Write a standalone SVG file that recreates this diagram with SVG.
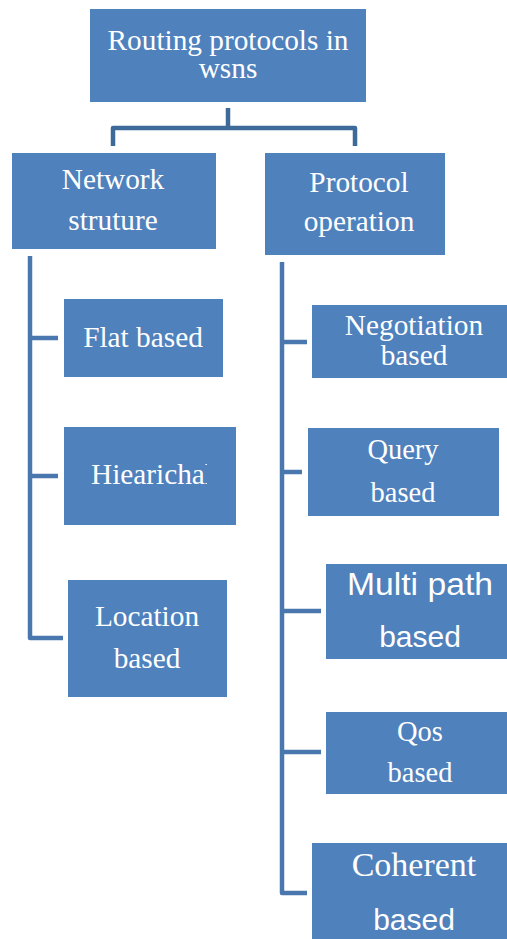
<svg xmlns="http://www.w3.org/2000/svg" width="507" height="939" viewBox="0 0 507 939">
<style>
.box{fill:#4f81bd}
.t{fill:#ffffff;font-family:"Liberation Serif","Times New Roman",serif;font-size:29.3px;text-anchor:middle}
.s{fill:#ffffff;font-family:"Liberation Sans",Arial,sans-serif;font-size:30px;text-anchor:middle}
.c{fill:none;stroke:#4a77ad;stroke-width:4.5;stroke-linejoin:round}
.ct{fill:none;stroke:#3e6a9a;stroke-width:4.5;stroke-linejoin:round}
</style>
<defs>
<clipPath id="clipH"><rect x="64" y="427" width="143" height="98"/></clipPath>
</defs>
<rect width="507" height="939" fill="#ffffff"/>
<g id="connectors">
<path class="ct" d="M228,108 V128 M113,146 V128 H355 V146"/>
<path class="c" d="M30,256 V638 H63 M30,338 H58 M30,476 H58"/>
<path class="c" d="M282,262 V893 H307 M282,342 H307 M282,472 H302 M282,611 H321 M282,752 H321"/>
</g>
<g id="root">
<rect class="box" x="90" y="9" width="276" height="93"/>
<text class="t" x="228" y="50">Routing protocols in</text>
<text class="t" x="228" y="78">wsns</text>
</g>
<g id="network">
<rect class="box" x="12" y="153" width="204" height="96"/>
<text class="t" x="113" y="189">Network</text>
<text class="t" x="113" y="230">struture</text>
</g>
<g id="protocol">
<rect class="box" x="265" y="153" width="180" height="102"/>
<text class="t" x="359" y="192">Protocol</text>
<text class="t" x="359" y="231">operation</text>
</g>
<g id="flat">
<rect class="box" x="64" y="299" width="159" height="78"/>
<text class="t" x="143" y="347">Flat based</text>
</g>
<g id="hier">
<rect class="box" x="64" y="427" width="172" height="98"/>
<text class="t" x="91" y="484" style="text-anchor:start" clip-path="url(#clipH)">Hiearichal</text>
</g>
<g id="location">
<rect class="box" x="68" y="580" width="159" height="117"/>
<text class="t" x="147" y="626">Location</text>
<text class="t" x="147" y="668">based</text>
</g>
<g id="negotiation">
<rect class="box" x="312" y="305" width="195" height="73"/>
<text class="t" x="414" y="335">Negotiation</text>
<text class="t" x="414" y="365">based</text>
</g>
<g id="query">
<rect class="box" x="308" y="428" width="191" height="88"/>
<text class="t" x="403" y="459" style="font-size:28.5px">Query</text>
<text class="t" x="403" y="502" style="font-size:28.5px">based</text>
</g>
<g id="multipath">
<rect class="box" x="326" y="564" width="181" height="95"/>
<text class="s" x="420" y="595" style="font-size:31px" textLength="146" lengthAdjust="spacingAndGlyphs">Multi path</text>
<text class="s" x="420" y="647">based</text>
</g>
<g id="qos">
<rect class="box" x="326" y="712" width="181" height="82"/>
<text class="t" x="420" y="741" style="font-size:28.5px">Qos</text>
<text class="t" x="420" y="782" style="font-size:28.5px">based</text>
</g>
<g id="coherent">
<rect class="box" x="312" y="843" width="195" height="96"/>
<text class="t" x="414" y="876" style="font-size:34px">Coherent</text>
<text class="s" x="414" y="930">based</text>
</g>
</svg>
